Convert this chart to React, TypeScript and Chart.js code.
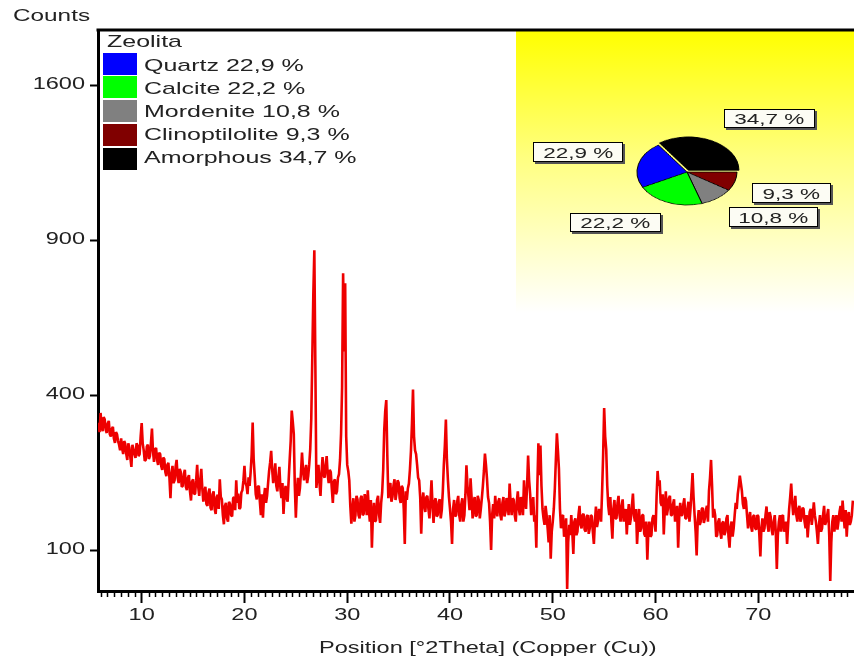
import React, { useEffect, useRef } from "react";
import { Chart, registerables } from "chart.js";
Chart.register(...registerables);

// ---- data ----
const twoThetaStart = 5.8;
const twoThetaStep = 0.1;
const counts = [
  332, 310, 355, 325, 312, 345, 340, 315, 308, 330, 336, 305, 300, 318, 322, 295, 286, 310, 305, 290,
  282, 270, 296, 275, 262, 290, 284, 262, 250, 285, 276, 255, 236, 282, 272, 262, 254, 285, 280, 258,
  262, 300, 331, 285, 270, 248, 250, 278, 282, 252, 258, 285, 318, 268, 246, 272, 275, 250, 240, 265,
  262, 238, 230, 255, 252, 226, 218, 240, 244, 215, 178, 222, 238, 205, 210, 236, 250, 215, 205, 232,
  226, 198, 200, 222, 230, 198, 192, 215, 220, 190, 174, 208, 212, 185, 186, 210, 240, 198, 182, 210,
  232, 195, 172, 190, 198, 168, 165, 188, 195, 162, 158, 185, 190, 160, 152, 180, 184, 160, 212, 180,
  176, 150, 136, 165, 170, 145, 140, 172, 168, 150, 148, 178, 180, 158, 210, 170, 186, 160, 162, 188,
  192, 210, 238, 205, 200, 185, 216, 200, 225, 260, 332, 250, 218, 185, 176, 198, 200, 172, 150, 185,
  146, 180, 196, 170, 182, 205, 228, 245, 269, 230, 205, 222, 243, 200, 190, 215, 236, 195, 178, 205,
  152, 185, 200, 178, 172, 210, 250, 290, 361, 335, 306, 200, 146, 190, 215, 182, 196, 225, 265, 230,
  210, 228, 240, 205, 218, 240, 272, 340, 500, 700, 861, 480, 196, 220, 240, 205, 182, 225, 256, 220,
  215, 240, 258, 220, 205, 230, 226, 195, 170, 208, 212, 185, 190, 215, 222, 250, 306, 420, 776, 520,
  740, 300, 240, 228, 210, 165, 137, 160, 178, 140, 150, 182, 176, 150, 145, 178, 182, 150, 152, 185,
  175, 150, 192, 160, 140, 175, 103, 150, 170, 140, 142, 175, 182, 150, 138, 170, 188, 230, 314, 360,
  387, 260, 178, 200, 205, 172, 180, 200, 212, 175, 188, 210, 206, 178, 170, 200, 196, 160, 108, 190,
  175, 195, 204, 230, 268, 330, 414, 300, 270, 262, 240, 215, 210, 180, 122, 170, 188, 165, 155, 180,
  182, 160, 145, 175, 210, 165, 138, 172, 178, 148, 150, 172, 176, 145, 158, 190, 240, 280, 339, 250,
  210, 180, 160, 140, 108, 160, 175, 148, 150, 172, 182, 150, 140, 168, 178, 140, 150, 185, 239, 200,
  180, 158, 214, 180, 145, 172, 180, 148, 150, 182, 175, 145, 160, 178, 200, 228, 263, 240, 213, 180,
  170, 140, 100, 150, 168, 145, 182, 160, 148, 172, 178, 150, 142, 170, 180, 148, 155, 178, 172, 150,
  204, 170, 150, 178, 175, 150, 140, 172, 190, 160, 150, 180, 172, 150, 210, 175, 160, 200, 259, 210,
  185, 150, 164, 180, 140, 150, 103, 200, 285, 220, 280, 200, 160, 145, 135, 165, 150, 130, 110, 150,
  89, 125, 140, 160, 195, 250, 307, 270, 232, 160, 130, 148, 150, 118, 125, 145, 56, 110, 135, 120,
  150, 125, 95, 140, 145, 120, 125, 150, 165, 135, 130, 150, 152, 128, 125, 148, 150, 122, 130, 150,
  148, 125, 108, 140, 164, 132, 140, 160, 155, 140, 190, 260, 367, 300, 272, 200, 165, 150, 180, 140,
  115, 160, 175, 145, 145, 170, 182, 150, 140, 165, 176, 140, 150, 160, 121, 150, 168, 135, 145, 165,
  186, 150, 140, 160, 108, 135, 160, 125, 130, 150, 150, 122, 118, 140, 88, 125, 140, 118, 120, 145,
  150, 140, 125, 180, 228, 200, 210, 170, 165, 185, 121, 160, 190, 150, 160, 178, 182, 150, 150, 168,
  176, 140, 148, 165, 103, 145, 170, 150, 150, 168, 178, 145, 145, 160, 172, 140, 160, 190, 224, 180,
  150, 125, 93, 140, 158, 135, 140, 160, 162, 138, 145, 158, 165, 140, 191, 215, 250, 200, 146, 160,
  150, 118, 120, 140, 145, 125, 115, 138, 140, 120, 125, 145, 150, 118, 103, 132, 140, 118, 130, 150,
  170, 160, 185, 200, 219, 205, 191, 168, 160, 180, 173, 150, 130, 145, 155, 132, 125, 148, 150, 130,
  128, 150, 148, 120, 92, 130, 145, 125, 130, 150, 164, 135, 125, 155, 148, 128, 120, 140, 150, 125,
  77, 120, 140, 150, 125, 148, 150, 125, 130, 140, 108, 135, 160, 180, 204, 170, 150, 165, 182, 150,
  140, 160, 165, 140, 145, 162, 160, 140, 130, 150, 117, 138, 155, 160, 135, 150, 171, 150, 140, 125,
  108, 135, 150, 125, 130, 150, 165, 135, 140, 150, 160, 120, 64, 110, 140, 150, 125, 140, 150, 128,
  140, 155, 165, 140, 174, 150, 130, 158, 118, 145, 155, 135, 140, 150, 174,
];
const yTickCounts = [100, 400, 900, 1600];
const xTickLabels = [10, 20, 30, 40, 50, 60, 70];
const xMin = 5.75;
const xMax = 79.31;
const yMinCount = 54.1;
const yMaxCount = 1896.5;
const xMinorPerMajor = 15;

const legendTitle = "Zeolita";
const phaseNames = ["Quartz", "Calcite", "Mordenite", "Clinoptilolite", "Amorphous"];
const phasePercents = [22.9, 22.2, 10.8, 9.3, 34.7];
const phaseColors = ["#0000ff", "#00ff00", "#808080", "#800000", "#000000"];
const xTitle = "Position [°2Theta] (Copper (Cu))";
const yTitle = "Counts";

const fmtPct = (p: number) => p.toFixed(1).replace(".", ",") + " %";

// layout of the pie value boxes (by phase name)
const pieLabelBoxes: Record<string, { left: number; top: number; width: number; height: number }> = {
  Amorphous: { left: 724, top: 109, width: 91, height: 19 },
  Quartz: { left: 533, top: 142, width: 90, height: 20 },
  Calcite: { left: 570, top: 213, width: 91, height: 19 },
  Clinoptilolite: { left: 752, top: 183, width: 79, height: 20 },
  Mordenite: { left: 729, top: 207, width: 89, height: 20 },
};

const FONT = '"Liberation Sans", Arial, sans-serif';
const STRETCH = 1.47;

// draws the axis tick labels horizontally widened (like the original screen font),
// plus the minor ticks and the top frame line
const framePlugin = {
  id: "frame",
  beforeDraw(chart: any) {
    const ctx = chart.ctx;
    const orig = CanvasRenderingContext2D.prototype.fillText;
    ctx.fillText = function (text: string, x: number, y: number, maxWidth?: number) {
      this.save();
      this.translate(x, y);
      this.scale(STRETCH, 1);
      if (maxWidth === undefined) orig.call(this, text, 0, 0);
      else orig.call(this, text, 0, 0, maxWidth / STRETCH);
      this.restore();
    };
  },
  afterDraw(chart: any) {
    const ctx = chart.ctx;
    delete ctx.fillText;
    const xs = chart.scales.x;
    const area = chart.chartArea;
    ctx.save();
    ctx.strokeStyle = "#000";
    ctx.lineWidth = 1.5;
    const minorStep = 10 / xMinorPerMajor;
    for (let k = -40; k < 200; k++) {
      if (k % xMinorPerMajor === 0) continue;
      const v = 10 + k * minorStep;
      if (v <= xs.min || v >= xs.max) continue;
      const px = Math.round(xs.getPixelForValue(v)) + 0.5;
      ctx.beginPath();
      ctx.moveTo(px, area.bottom);
      ctx.lineTo(px, area.bottom + 6);
      ctx.stroke();
    }
    ctx.lineWidth = 3;
    ctx.beginPath();
    ctx.moveTo(area.left - 1.5, area.top);
    ctx.lineTo(area.right, area.top);
    ctx.stroke();
    ctx.restore();
  },
};

export default function App() {
  const mainRef = useRef<HTMLCanvasElement>(null);
  const pieRef = useRef<HTMLCanvasElement>(null);

  useEffect(() => {
    const points = counts.map((c, i) => ({
      x: twoThetaStart + i * twoThetaStep,
      y: Math.sqrt(c),
    }));
    const tickFont = { family: FONT, size: 16 };
    const main = new Chart(mainRef.current as HTMLCanvasElement, {
      type: "line",
      data: {
        datasets: [
          {
            data: points,
            borderColor: "#ee0000",
            borderWidth: 2.6,
            borderJoinStyle: "bevel",
            pointRadius: 0,
            tension: 0,
          },
        ],
      },
      options: {
        responsive: false,
        animation: false,
        devicePixelRatio: 1,
        layout: { padding: { top: 30, left: 0, right: 0, bottom: 0 } },
        plugins: { legend: { display: false }, tooltip: { enabled: false } },
        scales: {
          x: {
            type: "linear",
            min: xMin,
            max: xMax,
            afterBuildTicks: (s: any) => {
              s.ticks = xTickLabels.map((v) => ({ value: v }));
            },
            afterFit: (s: any) => {
              s.height = 71;
            },
            grid: { drawOnChartArea: false, drawTicks: true, tickLength: 12, tickColor: "#000", tickWidth: 2 },
            border: { display: true, color: "#000", width: 3 },
            ticks: {
              autoSkip: false,
              maxRotation: 0,
              padding: 3,
              color: "#222",
              font: tickFont,
              callback: (v: any) => String(v),
            },
          },
          y: {
            type: "linear",
            min: Math.sqrt(yMinCount),
            max: Math.sqrt(yMaxCount),
            afterBuildTicks: (s: any) => {
              s.ticks = yTickCounts.map((c) => ({ value: Math.sqrt(c) }));
            },
            afterFit: (s: any) => {
              s.width = 98;
            },
            grid: { drawOnChartArea: false, drawTicks: true, tickLength: 8, tickColor: "#000", tickWidth: 2 },
            border: { display: true, color: "#000", width: 3 },
            ticks: {
              padding: 5,
              color: "#222",
              font: tickFont,
              callback: (v: any) => String(Math.round(v * v)),
            },
          },
        },
      },
      plugins: [framePlugin],
    } as any);

    const order = [...phaseNames.keys()].reverse();
    const pie = new Chart(pieRef.current as HTMLCanvasElement, {
      type: "pie",
      data: {
        labels: order.map((i) => phaseNames[i]),
        datasets: [
          {
            data: order.map((i) => phasePercents[i]),
            backgroundColor: order.map((i) => phaseColors[i]),
            borderColor: "#000",
            borderWidth: 1,
            offset: order.map((i) => (phaseNames[i] === "Amorphous" ? 12 : 0)),
          },
        ],
      },
      options: {
        responsive: false,
        animation: false,
        devicePixelRatio: 1,
        rotation: -35,
        radius: 50,
        plugins: { legend: { display: false }, tooltip: { enabled: false } },
      },
    } as any);

    return () => {
      main.destroy();
      pie.destroy();
    };
  }, []);

  const stretch = (origin: string) => ({
    display: "inline-block",
    transform: `scaleX(${STRETCH})`,
    transformOrigin: origin,
    whiteSpace: "nowrap" as const,
  });

  return (
    <div
      style={{
        position: "fixed",
        left: 0,
        top: 0,
        width: 854,
        height: 662,
        overflow: "hidden",
        background: "#fff",
        fontFamily: FONT,
        color: "#222",
      }}
    >
      <div
        style={{
          position: "absolute",
          left: 516,
          top: 31,
          width: 338,
          height: 282,
          background: "linear-gradient(#ffff00 0%, #ffff80 45%, #ffffff 100%)",
        }}
      />
      <canvas
        ref={mainRef}
        width={854}
        height={662}
        style={{ position: "absolute", left: 0, top: 0, width: 854, height: 662 }}
      />
      {/* y title */}
      <div style={{ position: "absolute", left: 12.5, top: 8, fontSize: 16, lineHeight: "16px" }}>
        <span style={{ ...stretch("0 0"), transform: "scaleX(1.52)" }}>{yTitle}</span>
      </div>
      {/* x title */}
      <div
        style={{
          position: "absolute",
          left: 187.5,
          width: 600,
          top: 639.5,
          fontSize: 16,
          lineHeight: "16px",
          textAlign: "center",
        }}
      >
        <span style={stretch("50% 50%")}>{xTitle}</span>
      </div>
      {/* legend */}
      <div style={{ position: "absolute", left: 107, top: 32.8, fontSize: 17, lineHeight: "17px" }}>
        <span style={stretch("0 0")}>{legendTitle}</span>
      </div>
      {phaseNames.map((n, i) => (
        <React.Fragment key={n}>
          <div
            style={{
              position: "absolute",
              left: 103,
              top: 52.7 + i * 23.75,
              width: 34,
              height: 22,
              background: phaseColors[i],
            }}
          />
          <div
            style={{
              position: "absolute",
              left: 144,
              top: 57 + i * 23.1,
              fontSize: 17,
              lineHeight: "17px",
            }}
          >
            <span style={stretch("0 0")}>
              {n} {fmtPct(phasePercents[i])}
            </span>
          </div>
        </React.Fragment>
      ))}
      {/* pie */}
      <canvas
        ref={pieRef}
        width={130}
        height={130}
        style={{
          position: "absolute",
          left: 622,
          top: 107,
          width: 130,
          height: 130,
          transform: "scaleY(0.66)",
          transformOrigin: "50% 50%",
        }}
      />
      {phaseNames.map((n, i) => {
        const b = pieLabelBoxes[n];
        return (
          <div
            key={"lbl" + n}
            style={{
              position: "absolute",
              left: b.left,
              top: b.top,
              width: b.width,
              height: b.height,
              boxSizing: "border-box",
              border: "1px solid #000",
              background: "#fcfcf4",
              boxShadow: "2px 2px 0 #555",
              display: "flex",
              alignItems: "center",
              justifyContent: "center",
              fontSize: 15,
              lineHeight: "15px",
            }}
          >
            <span style={{ ...stretch("50% 50%"), transform: "scaleX(1.5)" }}>{fmtPct(phasePercents[i])}</span>
          </div>
        );
      })}
    </div>
  );
}
